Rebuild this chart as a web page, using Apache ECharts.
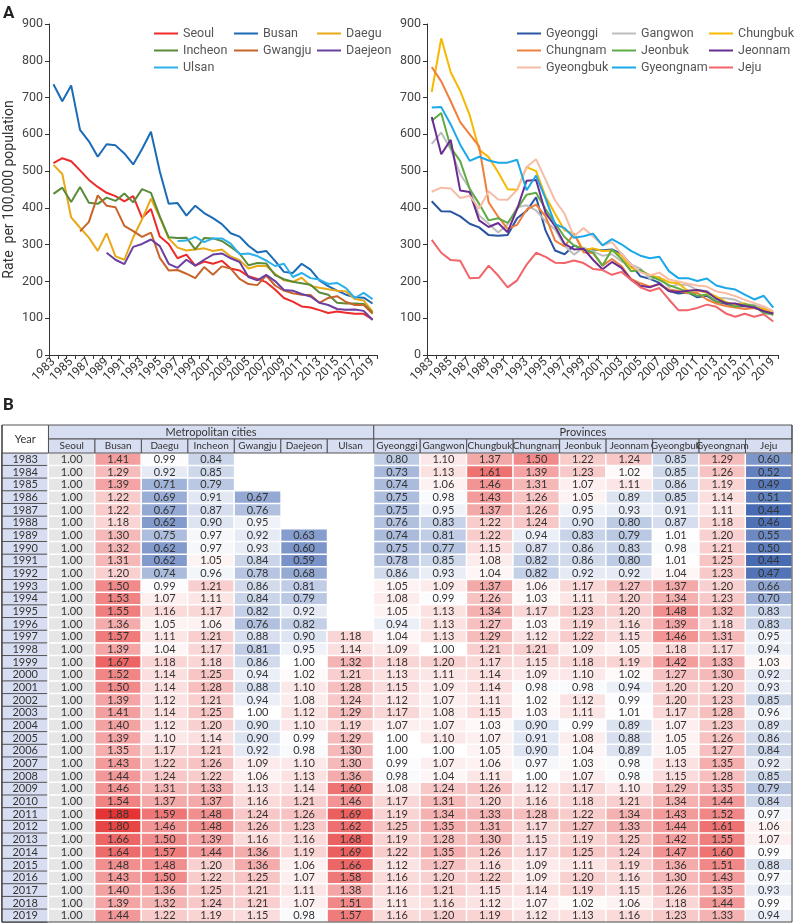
<!DOCTYPE html>
<html><head><meta charset="utf-8">
<script src="https://cdn.jsdelivr.net/npm/echarts@6/dist/echarts.min.js"></script>
<style>html,body{margin:0;padding:0;background:#fff}#c{width:794px;height:924px}</style>
</head><body><div id="c"></div>
<script>
// ---------- DATA ----------
const years = [1983,1984,1985,1986,1987,1988,1989,1990,1991,1992,1993,1994,1995,1996,1997,1998,1999,2000,2001,2002,2003,2004,2005,2006,2007,2008,2009,2010,2011,2012,2013,2014,2015,2016,2017,2018,2019];

// Panel A: rates per 100,000
const seoul    = [522,535,527,502,476,457,441,432,418,432,373,397,322,302,263,273,243,254,248,256,235,230,214,207,198,178,155,145,132,129,122,114,118,115,112,112,97];
const busan    = [736,690,733,612,581,539,573,570,548,518,560,607,499,411,413,379,406,386,372,356,331,322,297,279,283,256,226,223,248,232,203,187,175,164,157,156,140];
const daegu    = [517,492,374,346,319,283,331,268,259,320,369,425,374,317,292,284,287,290,283,287,268,258,235,242,242,221,203,199,210,188,183,179,175,173,152,148,118];
const incheon  = [438,455,416,457,414,411,428,419,439,415,451,441,377,320,318,319,287,318,317,310,294,276,244,250,249,217,206,199,195,191,170,164,142,140,140,139,115];
const gwangju  = [null,null,null,336,362,434,406,402,351,337,321,333,264,230,231,221,209,239,218,241,235,207,193,190,216,189,175,168,164,163,142,155,160,144,136,136,112];
const daejeon  = [null,null,null,null,null,null,278,259,247,294,302,314,296,248,237,259,243,259,273,276,263,253,212,203,218,201,177,175,166,159,142,136,125,123,124,120,95];
const ulsan    = [null,null,null,null,null,null,null,null,null,null,null,null,null,null,310,311,321,307,317,317,303,274,276,269,257,242,248,212,223,209,205,193,196,182,155,169,152];
const gyeonggi = [418,391,390,377,357,347,326,324,326,372,392,429,338,284,274,298,287,287,285,287,275,246,214,207,196,174,167,170,157,161,145,139,132,133,130,124,113];
const gangwon  = [574,605,559,492,452,379,357,333,355,402,407,393,364,341,297,273,292,282,270,274,254,246,235,207,212,185,192,190,177,174,156,154,150,138,136,130,116];
const chungbuk = [715,861,769,718,652,558,538,497,451,449,511,500,431,384,339,330,284,290,283,284,270,237,229,217,210,198,195,174,176,169,159,144,137,140,129,125,115];
const chungnam = [783,744,690,633,600,567,415,376,343,354,395,409,377,311,295,330,279,277,243,261,242,207,195,186,192,178,174,168,169,151,140,133,129,125,128,120,109];
const jeonbuk  = [637,658,564,527,452,411,366,372,359,397,436,441,396,359,321,298,287,279,243,287,261,228,231,215,204,190,181,171,161,164,145,143,131,138,133,114,110];
const jeonnam  = [647,546,585,447,443,366,348,359,334,397,474,476,386,350,302,287,289,259,233,253,237,205,188,184,194,174,171,175,177,172,153,141,140,133,129,119,113];
const gyeongbuk= [444,455,453,427,433,398,445,423,422,449,511,532,477,420,384,322,345,323,298,307,275,246,225,217,224,205,200,194,189,186,173,168,160,150,141,132,119];
const gyeongnam= [673,674,627,572,528,539,529,523,523,531,448,488,425,356,345,319,323,330,298,315,301,283,270,263,267,228,209,209,201,208,189,182,178,164,151,161,129];
const jeju     = [313,278,258,256,209,210,243,216,184,203,246,278,267,251,250,257,250,234,231,218,226,205,184,174,182,151,122,122,128,137,131,113,104,112,104,111,91];

const metroNames = ['Seoul','Busan','Daegu','Incheon','Gwangju','Daejeon','Ulsan'];
const provNames  = ['Gyeonggi','Gangwon','Chungbuk','Chungnam','Jeonbuk','Jeonnam','Gyeongbuk','Gyeongnam','Jeju'];
const metroRates = [seoul,busan,daegu,incheon,gwangju,daejeon,ulsan];
const provRates  = [gyeonggi,gangwon,chungbuk,chungnam,jeonbuk,jeonnam,gyeongbuk,gyeongnam,jeju];

// Panel B: ratio to Seoul (table)
const rSeoul    = years.map(()=>1.00);
const rBusan    = [1.41,1.29,1.39,1.22,1.22,1.18,1.30,1.32,1.31,1.20,1.50,1.53,1.55,1.36,1.57,1.39,1.67,1.52,1.50,1.39,1.41,1.40,1.39,1.35,1.43,1.44,1.46,1.54,1.88,1.80,1.66,1.64,1.48,1.43,1.40,1.39,1.44];
const rDaegu    = [0.99,0.92,0.71,0.69,0.67,0.62,0.75,0.62,0.62,0.74,0.99,1.07,1.16,1.05,1.11,1.04,1.18,1.14,1.14,1.12,1.14,1.12,1.10,1.17,1.22,1.24,1.31,1.37,1.59,1.46,1.50,1.57,1.48,1.50,1.36,1.32,1.22];
const rIncheon  = [0.84,0.85,0.79,0.91,0.87,0.90,0.97,0.97,1.05,0.96,1.21,1.11,1.17,1.06,1.21,1.17,1.18,1.25,1.28,1.21,1.25,1.20,1.14,1.21,1.26,1.22,1.33,1.37,1.48,1.48,1.39,1.44,1.20,1.22,1.25,1.24,1.19];
const rGwangju  = [null,null,null,0.67,0.76,0.95,0.92,0.93,0.84,0.78,0.86,0.84,0.82,0.76,0.88,0.81,0.86,0.94,0.88,0.94,1.00,0.90,0.90,0.92,1.09,1.06,1.13,1.16,1.24,1.26,1.16,1.36,1.36,1.25,1.21,1.21,1.15];
const rDaejeon  = [null,null,null,null,null,null,0.63,0.60,0.59,0.68,0.81,0.79,0.92,0.82,0.90,0.95,1.00,1.02,1.10,1.08,1.12,1.10,0.99,0.98,1.10,1.13,1.14,1.21,1.26,1.23,1.16,1.19,1.06,1.07,1.11,1.07,0.98];
const rUlsan    = [null,null,null,null,null,null,null,null,null,null,null,null,null,null,1.18,1.14,1.32,1.21,1.28,1.24,1.29,1.19,1.29,1.30,1.30,1.36,1.60,1.46,1.69,1.62,1.68,1.69,1.66,1.58,1.38,1.51,1.57];
const rGyeonggi = [0.80,0.73,0.74,0.75,0.75,0.76,0.74,0.75,0.78,0.86,1.05,1.08,1.05,0.94,1.04,1.09,1.18,1.13,1.15,1.12,1.17,1.07,1.00,1.00,0.99,0.98,1.08,1.17,1.19,1.25,1.19,1.22,1.12,1.16,1.16,1.11,1.16];
const rGangwon  = [1.10,1.13,1.06,0.98,0.95,0.83,0.81,0.77,0.85,0.93,1.09,0.99,1.13,1.13,1.13,1.00,1.20,1.11,1.09,1.07,1.08,1.07,1.10,1.00,1.07,1.04,1.24,1.31,1.34,1.35,1.28,1.35,1.27,1.20,1.21,1.16,1.20];
const rChungbuk = [1.37,1.61,1.46,1.43,1.37,1.22,1.22,1.15,1.08,1.04,1.37,1.26,1.34,1.27,1.29,1.21,1.17,1.14,1.14,1.11,1.15,1.03,1.07,1.05,1.06,1.11,1.26,1.20,1.33,1.31,1.30,1.26,1.16,1.22,1.15,1.12,1.19];
const rChungnam = [1.50,1.39,1.31,1.26,1.26,1.24,0.94,0.87,0.82,0.82,1.06,1.03,1.17,1.03,1.12,1.21,1.15,1.09,0.98,1.02,1.03,0.90,0.91,0.90,0.97,1.00,1.12,1.16,1.28,1.17,1.15,1.17,1.09,1.09,1.14,1.07,1.12];
const rJeonbuk  = [1.22,1.23,1.07,1.05,0.95,0.90,0.83,0.86,0.86,0.92,1.17,1.11,1.23,1.19,1.22,1.09,1.18,1.10,0.98,1.12,1.11,0.99,1.08,1.04,1.03,1.07,1.17,1.18,1.22,1.27,1.19,1.25,1.11,1.20,1.19,1.02,1.13];
const rJeonnam  = [1.24,1.02,1.11,0.89,0.93,0.80,0.79,0.83,0.80,0.92,1.27,1.20,1.20,1.16,1.15,1.05,1.19,1.02,0.94,0.99,1.01,0.89,0.88,0.89,0.98,0.98,1.10,1.21,1.34,1.33,1.25,1.24,1.19,1.16,1.15,1.06,1.16];
const rGyeongbuk= [0.85,0.85,0.86,0.85,0.91,0.87,1.01,0.98,1.01,1.04,1.37,1.34,1.48,1.39,1.46,1.18,1.42,1.27,1.20,1.20,1.17,1.07,1.05,1.05,1.13,1.15,1.29,1.34,1.43,1.44,1.42,1.47,1.36,1.30,1.26,1.18,1.23];
const rGyeongnam= [1.29,1.26,1.19,1.14,1.11,1.18,1.20,1.21,1.25,1.23,1.20,1.23,1.32,1.18,1.31,1.17,1.33,1.30,1.20,1.23,1.28,1.23,1.26,1.27,1.35,1.28,1.35,1.44,1.52,1.61,1.55,1.60,1.51,1.43,1.35,1.44,1.33];
const rJeju     = [0.60,0.52,0.49,0.51,0.44,0.46,0.55,0.50,0.44,0.47,0.66,0.70,0.83,0.83,0.95,0.94,1.03,0.92,0.93,0.85,0.96,0.89,0.86,0.84,0.92,0.85,0.79,0.84,0.97,1.06,1.07,0.99,0.88,0.97,0.93,0.99,0.94];
const ratioCols = [rSeoul,rBusan,rDaegu,rIncheon,rGwangju,rDaejeon,rUlsan,rGyeonggi,rGangwon,rChungbuk,rChungnam,rJeonbuk,rJeonnam,rGyeongbuk,rGyeongnam,rJeju];

// ---------- STYLE ----------
const metroColors = ['#ee2b2b','#1b6bb6','#e9a817','#5a8b3a','#c8642a','#6b3fa0','#2cb0ea'];
const provColors  = ['#2b55a3','#bdbdbd','#f7b800','#ef7f3a','#5fab44','#6a2c91','#f6bca5','#1ba8e8','#f0646a'];
const FONT = 'Roboto';
const TFONT = 'Lato';

const chart = echarts.init(document.getElementById('c'), null, {renderer:'canvas'});

function xAxisFor(gi){
  return {type:'category', gridIndex:gi, data:years.map(String), boundaryGap:true,
    axisLine:{lineStyle:{color:'#333'}},
    axisTick:{show:true, interval:0, length:4, lineStyle:{color:'#333'}},
    axisLabel:{interval:1, rotate:45, fontSize:12, color:'#333', margin:5, fontFamily:FONT}};
}
function yAxisFor(gi, named){
  const a = {type:'value', gridIndex:gi, min:0, max:900, interval:100,
    axisLine:{show:true, lineStyle:{color:'#333'}},
    axisTick:{show:true, length:4, lineStyle:{color:'#333'}},
    splitLine:{show:false},
    axisLabel:{fontSize:12.5, color:'#444', margin:6, fontFamily:FONT}};
  if(named){ Object.assign(a,{name:'Rate  per 100,000 population', nameLocation:'middle', nameGap:33,
    nameTextStyle:{fontSize:14, color:'#333', fontFamily:FONT}}); }
  return a;
}

const series = [];
metroNames.forEach((n,i)=>series.push({name:n, type:'line', xAxisIndex:0, yAxisIndex:0, data:metroRates[i],
  symbol:'none', lineStyle:{width:2, color:metroColors[i]}, itemStyle:{color:metroColors[i]}, connectNulls:false}));
provNames.forEach((n,i)=>series.push({name:n, type:'line', xAxisIndex:1, yAxisIndex:1, data:provRates[i],
  symbol:'none', lineStyle:{width:2, color:provColors[i]}, itemStyle:{color:provColors[i]}, connectNulls:false}));

// Table heatmap
const tableCols = ['Year'].concat(metroNames, provNames);
const yearCells = years.map((y,j)=>[0,j,y]);
const seoulCells = years.map((y,j)=>[1,j,rSeoul[j]]);
const otherCells = [];
for(let c=1;c<ratioCols.length;c++){
  ratioCols[c].forEach((v,j)=>{ if(v!==null) otherCells.push([c+1,j,v]); });
}
const cellLabel = {show:true, fontSize:11, color:'#333', fontFamily:TFONT,
  formatter:p=>Number(p.value[2]).toFixed(2)};
series.push({type:'heatmap', xAxisIndex:2, yAxisIndex:2, data:yearCells,
  itemStyle:{color:'#d8def1', borderColor:'#555', borderWidth:1},
  label:{show:true, fontSize:11, color:'#333', fontFamily:TFONT, formatter:p=>String(p.value[2])}, emphasis:{disabled:true}});
series.push({type:'heatmap', xAxisIndex:2, yAxisIndex:2, data:seoulCells,
  itemStyle:{color:'#e6e6e6', borderColor:'#fff', borderWidth:1.5}, label:cellLabel, emphasis:{disabled:true}});
series.push({type:'heatmap', xAxisIndex:2, yAxisIndex:2, data:otherCells,
  itemStyle:{borderColor:'#fff', borderWidth:1.5}, label:cellLabel, emphasis:{disabled:true}});
const heatIdx = series.length-1;

// legends
const legends = [];
const lx1=[149,229,312], lx2=[512,607,704], ly=[22,39,56];
metroNames.forEach((n,i)=>legends.push({data:[n], left:lx1[i%3], top:ly[Math.floor(i/3)], icon:'rect', itemWidth:24, itemHeight:2,
  itemGap:5, textStyle:{fontSize:12.5, color:'#555', fontFamily:FONT}, selectedMode:false}));
provNames.forEach((n,i)=>legends.push({data:[n], left:lx2[i%3], top:ly[Math.floor(i/3)], icon:'rect', itemWidth:24, itemHeight:2,
  itemGap:5, textStyle:{fontSize:12.5, color:'#555', fontFamily:FONT}, selectedMode:false}));

// table geometry (layout only)
const TL=2, TW=790, TT=453, TH=469, HT=425, HR=14;
const NC = tableCols.length, cw = TW/NC;
const graphics = [
  {type:'text', left:3, top:5, style:{text:'A', font:'bold 17px '+FONT, fill:'#222'}},
  {type:'text', left:3, top:397, style:{text:'B', font:'bold 17px '+FONT, fill:'#222'}},
];
function hdrCell(x,y,w,h,txt,fill,fs){
  graphics.push({type:'rect', shape:{x:x,y:y,width:w,height:h}, style:{fill:fill, stroke:'#555', lineWidth:1}, z:10});
  graphics.push({type:'text', x:x+w/2, y:y+h/2, style:{text:txt, font:(fs||11)+'px '+TFONT, fill:'#333', align:'center', verticalAlign:'middle'}, z:11});
}
hdrCell(TL, HT, cw, 2*HR, 'Year', '#ffffff', 11);
hdrCell(TL+cw, HT, 7*cw, HR, 'Metropolitan cities', '#d8def1', 11);
hdrCell(TL+8*cw, HT, 9*cw, HR, 'Provinces', '#d8def1', 11);
for(let c=1;c<NC;c++) hdrCell(TL+c*cw, HT+HR, cw, HR, tableCols[c], '#d8def1', 10);
// outer table edge lines
graphics.push({type:'line', shape:{x1:TL,y1:HT,x2:TL,y2:TT+TH}, style:{stroke:'#444', lineWidth:1.2}, z:12});
graphics.push({type:'line', shape:{x1:TL,y1:TT+TH,x2:TL+TW,y2:TT+TH}, style:{stroke:'#444', lineWidth:1.2}, z:12});
graphics.push({type:'line', shape:{x1:TL+TW,y1:HT,x2:TL+TW,y2:TT+TH}, style:{stroke:'#444', lineWidth:1}, z:12});

chart.setOption({
  animation:false,
  backgroundColor:'#fff',
  textStyle:{fontFamily:FONT},
  grid:[
    {left:49, top:24, width:328, height:331},
    {left:427, top:24, width:351, height:331},
    {left:TL, top:TT, width:TW, height:TH}
  ],
  xAxis:[xAxisFor(0), xAxisFor(1),
    {type:'category', gridIndex:2, data:tableCols, show:false}],
  yAxis:[yAxisFor(0,true), yAxisFor(1,false),
    {type:'category', gridIndex:2, data:years.map(String), inverse:true, show:false}],
  visualMap:{type:'continuous', show:false, seriesIndex:heatIdx, dimension:2, min:0.40, max:1.90,
    inRange:{color:['#3b62ae','#6c89c2','#9db0d7','#ced8eb','#ffffff','#fbdcdc','#f6b9b9','#f29696','#ee7474','#e95151','#e52e2e']}},
  legend:legends,
  series:series,
  graphic:graphics
});
</script></body></html>
